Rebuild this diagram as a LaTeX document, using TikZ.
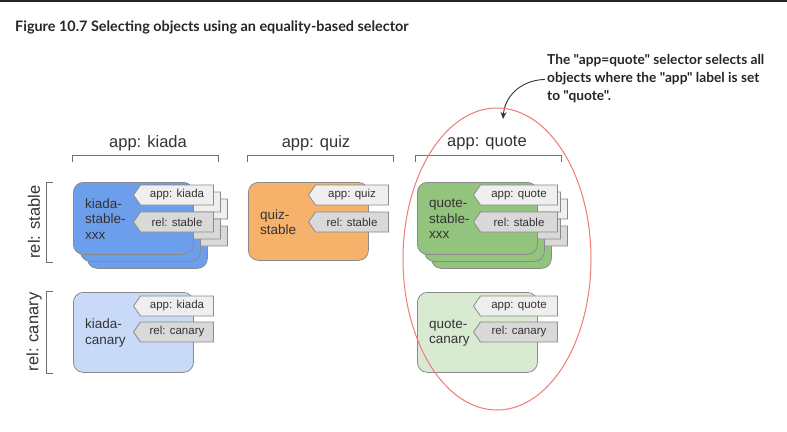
\documentclass[tikz,border=0pt]{standalone}
\usepackage{fontspec}
\setmainfont{Liberation Sans}
\newfontfamily\latofont{Lato}
\usetikzlibrary{shapes.symbols,arrows.meta}
\definecolor{kblue}{HTML}{6D9EEB}
\definecolor{klightblue}{HTML}{C9DAF8}
\definecolor{qorange}{HTML}{F6B26B}
\definecolor{qgreen}{HTML}{93C47D}
\definecolor{qlightgreen}{HTML}{D9EAD3}
\definecolor{tagapp}{HTML}{EFEFEF}
\definecolor{tagrel}{HTML}{D9D9D9}
\definecolor{edgegray}{HTML}{8A8A8A}
\definecolor{bracketgray}{HTML}{707070}
\definecolor{txt}{HTML}{333333}
\definecolor{ellred}{HTML}{F07A74}
\tikzset{
  podbox/.style={draw=edgegray, line width=0.8pt, rounded corners=10pt, minimum width=120pt, anchor=north west, inner sep=0pt},
  tagbox/.style={signal, signal to=west, signal pointer angle=110, draw=edgegray, line width=0.8pt, minimum width=80pt, minimum height=20pt, inner sep=0pt, anchor=west, font=\fontsize{11.5}{13}\selectfont, text=txt},
  apptag/.style={tagbox, fill=tagapp},
  reltag/.style={tagbox, fill=tagrel},
  podtext/.style={anchor=west, align=left, font=\fontsize{13.5}{15.5}\selectfont, text=txt, inner sep=0pt},
  header/.style={font=\fontsize{16.5}{18}\selectfont, text=txt, inner sep=0pt},
  bracket/.style={draw=bracketgray, line width=0.8pt},
}
\begin{document}
\begin{tikzpicture}[x=1pt,y=-1pt]
\useasboundingbox (0,0) rectangle (787,431);
\fill[white] (0,0) rectangle (787,431);
\draw[black!85, line width=1.6pt] (0,0.8) -- (787,0.8);

% title
\node[anchor=west, inner sep=0pt, font=\latofont\bfseries\fontsize{14.4}{16}\selectfont, text=black!85] (title) at (15,27) {Figure 10.7 Selecting objects using an equality-based selector};

% annotation
\node[anchor=north west, align=left, inner sep=0pt, font=\latofont\bfseries\fontsize{13.7}{18}\selectfont, text=black!85] (note) at (547,54) {The "app=quote" selector selects all\\objects where the "app" label is set\\to "quote".};
\coordinate (tip) at (503,119);
\draw[black!80, line width=0.9pt, -{Stealth[length=7pt,width=6pt]}] ([xshift=-2pt,yshift=-1pt]note.west) .. controls (522,80) and (505,95) .. (tip);

% column headers
\node[header] (hk) at (148,143) {app: kiada};
\node[header] (hq) at (316,143) {app: quiz};
\node[header] (hqt) at (487,143) {app: quote};
\draw[bracket] (72,162) -- (72,155) -- (218,155) -- (218,162);
\draw[bracket] (247,162) -- (247,155) -- (393,155) -- (393,162);
\draw[bracket] (415,162) -- (415,155) -- (561,155) -- (561,162);

% row headers
\node[header, rotate=90] (rs) at (34,222) {rel: stable};
\node[header, rotate=90] (rc) at (34,332) {rel: canary};
\draw[bracket] (53,182) -- (46,182) -- (46,262) -- (53,262);
\draw[bracket] (53,291) -- (46,291) -- (46,373) -- (53,373);

% ---- kiada stable (stack of 3)
\node[podbox, fill=kblue, minimum height=72pt] (ks3) at (87,196) {};
\node[apptag] (ks3a) at (147,209) {};
\node[reltag] (ks3r) at (147,236) {};
\node[podbox, fill=kblue, minimum height=72pt] (ks2) at (80,189) {};
\node[apptag] (ks2a) at (140,202) {};
\node[reltag] (ks2r) at (140,229) {};
\node[podbox, fill=kblue, minimum height=72pt] (ks1) at (73,182) {};
\node[apptag] (ks1a) at (133,195) {app: kiada};
\node[reltag] (ks1r) at (133,222) {rel: stable};
\node[podtext] (kst) at (85,219) {kiada-\\stable-\\xxx};

% ---- quiz stable
\node[podbox, fill=qorange, minimum height=78pt] (qs) at (248,182) {};
\node[apptag] (qsa) at (308,195) {app: quiz};
\node[reltag] (qsr) at (308,222) {rel: stable};
\node[podtext] (qst) at (260,222) {quiz-\\stable};

% ---- quote stable (stack of 3)
\node[podbox, fill=qgreen, minimum height=72pt] (os3) at (431,196) {};
\node[apptag] (os3a) at (487,209) {};
\node[reltag] (os3r) at (487,236) {};
\node[podbox, fill=qgreen, minimum height=72pt] (os2) at (424,189) {};
\node[apptag] (os2a) at (480,202) {};
\node[reltag] (os2r) at (480,229) {};
\node[podbox, fill=qgreen, minimum height=72pt] (os1) at (417,182) {};
\node[apptag, minimum width=84pt] (os1a) at (473,195) {app: quote};
\node[reltag, minimum width=84pt] (os1r) at (473,222) {rel: stable};
\node[podtext] (ost) at (429,219) {quote-\\stable-\\xxx};

% ---- kiada canary
\node[podbox, fill=klightblue, minimum height=80pt] (kc) at (73,292) {};
\node[apptag] (kca) at (133,306) {app: kiada};
\node[reltag] (kcr) at (133,332) {rel: canary};
\node[podtext] (kct) at (85,333) {kiada-\\canary};

% ---- quote canary
\node[podbox, fill=qlightgreen, minimum height=80pt] (oc) at (417,292) {};
\node[apptag, minimum width=84pt] (oca) at (473,306) {app: quote};
\node[reltag, minimum width=84pt] (ocr) at (473,332) {rel: canary};
\node[podtext] (oct) at (429,333) {quote-\\canary};

% selection ellipse
\draw[ellred, line width=1pt] (497,259) ellipse [x radius=94, y radius=151];
\end{tikzpicture}
\end{document}
